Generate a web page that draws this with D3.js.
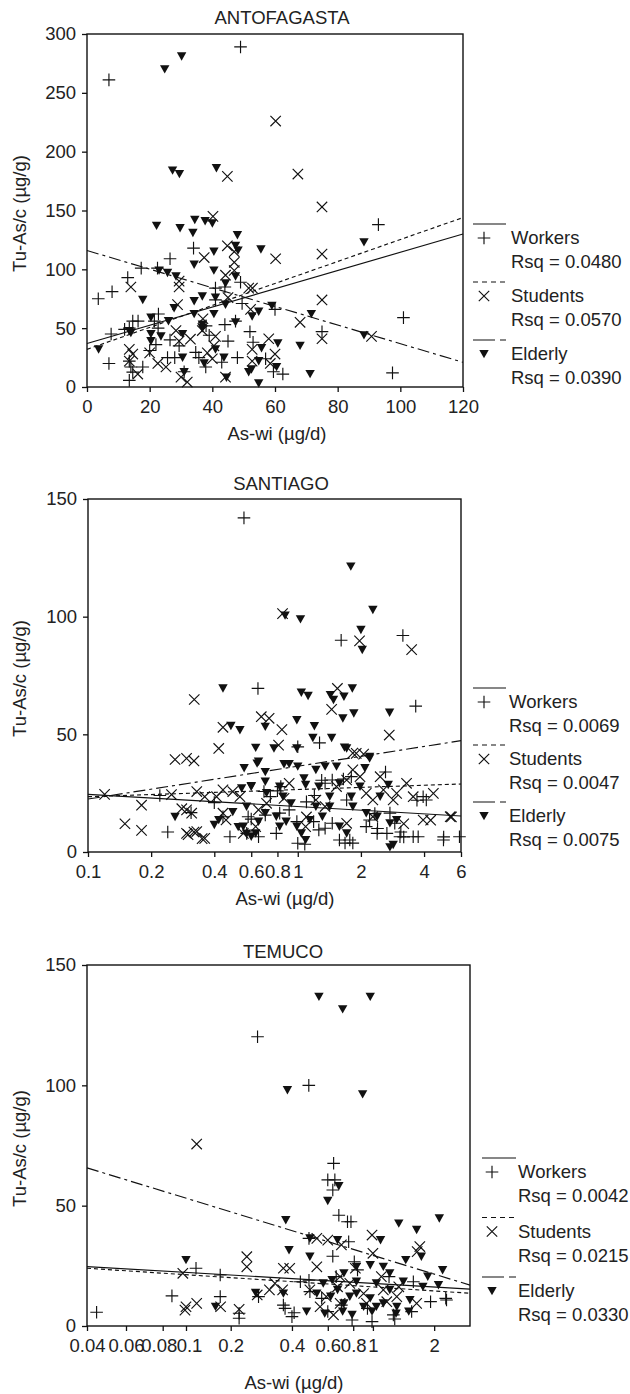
<!DOCTYPE html>
<html>
<head>
<meta charset="utf-8">
<script src="https://cdn.jsdelivr.net/npm/d3@7/dist/d3.min.js"></script>
<style>
  html, body { margin: 0; padding: 0; background: #fff; }
  svg text { font-family: "Liberation Sans", Arial, sans-serif; fill: #222; }
</style>
</head>
<body>
<script>
// ---------------- DATA ----------------
const groupNames = ["Workers", "Students", "Elderly"];

// ANTOFAGASTA (linear x)
const antoTitle = "ANTOFAGASTA";
const antoXTicks = [0, 20, 40, 60, 80, 100, 120];
const antoYTicks = [0, 50, 100, 150, 200, 250, 300];
const antoRsq = ["0.0480", "0.0570", "0.0390"];
const antoWorkers = [[49,289],[7,261],[93,138],[101,59],[97.5,12],[75,47],[34,118],[26.5,109],[17.3,101],[22.5,101],[13,93],[3.6,75],[8,81],[7.7,45],[7,20],[52,47],[60,66],[62.5,11],[48,25],[49,89],[41,84],[22.8,62],[16.3,56],[14.6,56],[13.5,50],[13.5,5.6],[14,17],[13.5,22],[14.6,12.6],[17.8,17],[21.5,56],[22.7,50],[22,36],[25.7,25],[29.4,35],[34.7,29.4],[35.7,25],[37.9,17],[41,74],[44,53],[47.4,56],[45,39],[49.5,71],[44,85],[12,49],[20,31],[28,25],[39,44],[53,38],[57,24],[59.5,13],[43,21],[31,13],[38,52],[26.5,40]];
const antoStudents = [[60.2,226],[67.3,181],[44.8,179],[75,153],[75,113],[75,74],[75,41],[90.8,43],[60.2,109],[40.2,145],[68,55],[52.8,84],[14,85],[29.4,85],[29.4,90],[37.4,110],[44.8,120],[47,115],[47,106],[47,99],[44.2,95],[51.6,84],[52.2,66],[13.5,32],[14.6,28],[13.5,22],[16.2,11],[20,29],[22.6,20],[25.2,17],[28.4,48],[29.4,39],[30,8.4],[32,4.2],[33,40.6],[36.8,48],[38.4,29],[40,24],[40.5,35],[44.2,8.4],[52.7,32],[52.7,22],[58,41],[60,28],[58.5,20],[28.9,70],[45,76],[37,58],[41,43]];
const antoElderly = [[24.8,270],[30.2,281],[27.3,184],[29.5,181],[41.3,186],[22.2,137],[29.7,135],[34.4,142],[37.7,141],[40,139],[33.8,131],[48,129],[48.2,116],[55.5,117],[88.4,123],[88.4,44],[71.6,62],[68,35],[71.2,11],[60.5,17],[54.8,3],[60.9,37],[59,69],[55.7,33],[52.5,15],[40.5,115],[34.2,104],[47.4,120],[23,99],[25.7,97],[28.4,94],[40.5,99],[47.4,94],[44.2,88],[17.8,74],[34.2,73],[36.8,77],[41,76],[44.2,70],[27.8,67],[34.2,62],[36.8,53],[40.5,62],[47.4,55],[52.7,60],[54.8,64],[20.4,59],[26,56],[3.7,32],[14,46],[20.4,39],[20.4,45],[23.6,43],[30.5,45],[30.5,25],[31,12.6],[37.4,20],[41,32],[43.7,25],[51.6,12.6],[54.8,22],[36.8,50],[13.5,47.6],[44.5,8]];
// regression lines: [x0, y0, x1, y1]
const antoFits = [[0,37,120,130],[0,32,120,144],[0,116,120,21]];

// SANTIAGO (log x)
const santTitle = "SANTIAGO";
const santXTicks = [0.1, 0.2, 0.4, 0.6, 0.8, 1, 2, 4, 6];
const santYTicks = [0, 50, 100, 150];
const santRsq = ["0.0069", "0.0047", "0.0075"];
const santWorkers = [[0.554,142],[1.61,90],[3.17,92],[3.65,62],[0.646,69.5],[1.27,46.4],[1.0,44.7],[2.62,34],[3.7,22],[4.96,6.4],[3.2,6.4],[3.1,8.5],[1.68,3.8],[1.83,3.8],[1.08,3.3],[0.24,8.5],[0.22,24],[0.31,16.7],[0.4,21],[1.65,31],[2.33,16.3],[2.4,10],[0.8,26],[1.3,30.5],[1.1,21.3],[0.6,14],[1.2,24],
  [0.69,25.7],[0.74,23.5],[0.83,27.8],[1.35,29.2],[1.46,30.6],[1.71,22.1],[1.8,32],[0.7,15.7],[0.82,16.5],[0.91,17.9],[0.99,12.9],[1.19,12.9],[1.26,9.4],[1.35,10.1],[1.46,12.2],[1.58,5.1],[1.77,5.1],[2.12,10.8],[2.2,13.6],[2.39,7.9],[2.66,7.9],[3.07,6.5],[3.55,6.5],[3.75,6.5],[3.96,23.5],[4.1,22.1],[4.95,5.1],[5.9,6.5],[1.0,3.7],[0.475,6.5],[0.571,7.9],[0.65,6.5],[0.79,7.9],[0.44,15],[0.58,15],[2.75,16.5],[2.9,12.2]];
const santStudents = [[0.846,101.3],[1.97,89.7],[3.49,86],[0.321,64.8],[1.545,69.5],[1.45,60.6],[0.67,57.5],[0.73,56.8],[0.44,53],[0.84,52],[0.42,44],[0.81,45.4],[2.73,49.7],[0.26,39.3],[0.32,38.7],[1.9,41.9],[2.06,41.6],[0.12,24.5],[0.15,12],[0.18,9.2],[0.18,19.9],[0.25,24.4],[0.28,18.4],[0.3,7.4],[0.32,8.5],[0.35,5.7],[5.4,14.9],[4.3,13.5],[3.2,12],[1.1,14.9],
  [0.295,39.8],[0.33,25.7],[0.36,23.5],[0.41,23.5],[0.44,26.4],[0.49,25.7],[0.53,23.5],[0.295,17.9],[0.312,16.5],[0.44,16.5],[0.455,13.6],[0.295,7.9],[0.33,8.7],[0.36,5.8],[0.55,7.9],[0.63,10.8],[0.65,17.9],[0.71,20.7],[0.86,22.8],[0.91,29.2],[1.09,10.8],[1.22,22.1],[1.35,19.3],[1.53,27.8],[1.71,30.6],[1.83,42],[1.83,34.9],[1.98,32],[2.12,24.9],[2.28,22.1],[2.47,32],[2.56,26.4],[2.85,22.1],[2.96,24.9],[3.3,29.2],[3.55,23.5],[3.96,13.6],[4.43,24.9],[5.33,15],[1.71,12.2],[2.28,15]];
const santElderly = [[1.79,121.3],[2.28,102.9],[0.87,100.5],[1.03,98.9],[2.0,94.4],[2.03,85.9],[0.44,69.5],[1.04,67.7],[1.12,66.3],[1.43,66.7],[1.48,64.6],[1.66,66],[1.82,69.5],[1.64,56.8],[1.85,58.9],[2.74,59.2],[0.99,56],[0.48,53.6],[0.53,51.8],[0.7,53.2],[1.2,53.5],[1.18,48.5],[1.45,48.5],[0.63,44.3],[0.77,44],[0.99,44],[1.67,44.4],[2.2,40.4],[0.64,37.6],[0.7,34],[0.86,37.3],[0.6,28],[0.54,27],[0.49,17],[0.26,14.9],[0.52,10.6],[0.57,7.8],[2.75,2],
  [0.555,35.6],[0.6,27.8],[0.65,38.4],[0.7,29.9],[0.71,25],[0.82,27.8],[0.91,37.4],[1.0,36.3],[1.07,31.3],[1.09,28.5],[1.22,34.9],[1.26,27.8],[1.35,36.3],[1.42,23.5],[1.53,36.3],[1.58,29.2],[1.71,44],[1.8,23.5],[1.98,27.8],[2.09,35.6],[2.2,39.8],[2.47,23.5],[2.7,28.5],[0.55,10.8],[0.6,6.5],[0.63,7.9],[0.7,16.5],[0.79,15],[0.82,10.8],[0.88,12.9],[0.99,10.8],[1.04,7.9],[1.09,5.1],[1.14,13.6],[1.22,19.3],[1.31,15],[1.42,19.3],[1.58,10.8],[1.71,7.9],[1.83,19.3],[2.12,16.5],[2.39,15],[2.75,12.2],[2.85,3],[2.96,13.6],[0.4,11.5],[0.42,13.6],[0.57,19.3],[0.65,12.9],[0.85,23.5],[0.93,20.7]];
const santFits = [[0.1,24.5,6,15.3],[0.1,23.5,6,28.9],[0.1,22.5,6,47.3]];

// TEMUCO (log x)
const temuTitle = "TEMUCO";
const temuXTicks = [0.04, 0.06, 0.08, 0.1, 0.2, 0.4, 0.6, 0.8, 1, 2];
const temuYTicks = [0, 50, 100, 150];
const temuRsq = ["0.0042", "0.0215", "0.0330"];
const temuWorkers = [[0.271,120.2],[0.484,100],[0.641,67.6],[0.6,60.7],[0.65,60.7],[0.635,56.5],[0.68,46],[0.75,43.3],[0.78,43.3],[0.485,36.4],[0.76,35],[0.635,29],[0.81,26.7],[0.0442,5.7],[0.0874,12.5],[0.1168,24],[0.17,21.2],[0.17,12.2],[0.22,5.3],[0.22,3.2],[0.274,12.2],[0.363,8.7],[0.37,7.3],[0.41,5.5],[0.49,14.3],[0.485,19],[0.79,2.5],[0.99,1.8],[0.4,3.9],[2.3,10.8],[1.26,4.6],[1.28,2.9],[1.58,18.4],[1.92,10.1],[2.28,11.5],[1.2,20.5],[0.84,23.3],[0.66,20.5],[0.56,11.5],[0.7,8.7],[0.94,7.3],[1.55,6],[0.44,18.4],[0.6,6]];
const temuStudents = [[0.118,75.6],[0.53,36.4],[0.6,35.7],[0.7,33.7],[0.99,37.8],[1.0,30.2],[1.7,33],[1.65,30.9],[0.24,28.8],[0.24,24.6],[0.097,21.9],[0.099,6.6],[0.1,8],[0.118,9.4],[0.171,8],[0.22,6.9],[0.27,12.9],[0.31,15],[0.36,15],[0.33,17.7],[0.363,24],[0.39,24],[0.49,15],[0.59,12.2],[0.67,16.3],[0.77,17.7],[0.9,13.5],[1.125,15],[1.31,12.2],[1.64,9.4],[0.55,8],[0.69,9.4],[0.93,9.4],[1.17,10.1],[0.53,24.6],[0.69,20.5],[1.1,20.5],[1.34,16.3],[0.82,24],[0.64,4.6]];
const temuElderly = [[0.543,136.8],[0.97,136.8],[0.71,131.6],[0.38,98],[0.89,96.3],[0.68,58.1],[0.6,52],[0.373,44],[2.12,44.7],[1.34,42.6],[1.64,39.9],[0.387,31.5],[0.49,36.4],[0.67,35.7],[1.09,35.7],[0.49,28.8],[1.45,27.4],[1.73,28.8],[2.2,23.2],[1.86,20.5],[2.1,17],[0.1,27.4],[0.158,8],[0.265,13.8],[0.363,13.5],
  [0.57,17.7],[0.63,19.1],[0.72,21.9],[0.83,24.6],[0.97,25.3],[1.125,24.6],[1.21,21.9],[1.41,18.4],[1.76,16.3],[0.53,13.5],[0.62,12.2],[0.72,9.4],[0.83,13.5],[0.97,11.5],[1.125,9.4],[1.31,8],[0.83,18.4],[1.04,17.7],[1.21,15],[1.52,10.8],[0.67,15],[0.9,8],[0.77,12.2],[1.04,8],[0.472,6],[0.58,5.2],[0.71,6],[0.79,4.6],[0.99,6],[1.3,5.2],[1.5,6]];
const temuFits = [[0.04,24.7,3,15.3],[0.04,24,3,13.6],[0.04,65.7,3,17]];

// ---------------- DRAWING ----------------
const svg = d3.select("body").append("svg").attr("width", 630).attr("height", 1394);
const FS = 18.5;
const fitDash = [null, "4,3", "12,4,3,4"];
const legendDash = [null, "5,4", "22,5,7"];

const markerPath = [
  "M-6.3,0H6.3M0,-6.3V6.3",
  "M-5.2,-5.2L5.2,5.2M-5.2,5.2L5.2,-5.2",
  "M-4.7,-4.1L4.7,-4.1L0,4.3Z"
];

function drawMarker(g, type, x, y) {
  const p = g.append("path").attr("d", markerPath[type]).attr("transform", `translate(${x},${y})`);
  if (type === 2) p.attr("fill", "#111").attr("stroke", "none");
  else p.attr("fill", "none").attr("stroke", "#111").attr("stroke-width", 1.15);
}

function panel(cfg) {
  const g = svg.append("g");
  const x = cfg.x, y = cfg.y;
  const [x0, x1] = [x.range()[0], x.range()[x.range().length - 1]];
  const [yb, yt] = y.range();

  const series = [cfg.workers, cfg.students, cfg.elderly];
  series.forEach((pts, si) => {
    const sg = g.append("g");
    pts.forEach(d => drawMarker(sg, si, x(d[0]), y(d[1])));
  });

  const line = d3.line().x(d => x(d[0])).y(d => y(d[1]));
  cfg.fits.forEach((f, i) => {
    g.append("path").attr("d", line([[f[0], f[1]], [f[2], f[3]]]))
      .attr("fill", "none").attr("stroke", "#111").attr("stroke-width", 1.15)
      .attr("stroke-dasharray", fitDash[i]);
  });

  const xa = g.append("g").attr("transform", `translate(0,${yb})`)
    .call(d3.axisBottom(x).tickValues(cfg.xTicks).tickFormat(d => String(d)).tickSize(5).tickPadding(8));
  const ya = g.append("g").attr("transform", `translate(${x0},0)`)
    .call(d3.axisLeft(y).tickValues(cfg.yTicks).tickFormat(d => String(d)).tickSize(5).tickPadding(6));
  [xa, ya].forEach(a => {
    a.select(".domain").remove();
    a.selectAll(".tick line").attr("stroke", "#111").attr("stroke-width", 1.3);
    a.selectAll(".tick text").attr("font-size", FS).attr("font-family", '"Liberation Sans", Arial, sans-serif').attr("fill", "#222");
  });
  if (cfg.labelNudge) {
    xa.selectAll(".tick text").attr("dx", d => cfg.labelNudge[d] || 0);
  }

  g.append("rect").attr("x", x0).attr("y", yt).attr("width", x1 - x0).attr("height", yb - yt)
    .attr("fill", "none").attr("stroke", "#111").attr("stroke-width", 1.4);

  g.append("text").attr("x", cfg.titleX).attr("y", cfg.titleY).attr("text-anchor", "middle")
    .attr("font-size", FS).text(cfg.title);
  g.append("text").attr("x", cfg.xLabelX).attr("y", cfg.xLabelY).attr("text-anchor", "middle")
    .attr("font-size", FS).text("As-wi (µg/d)");
  g.append("text").attr("transform", `translate(26,${(yb + yt) / 2 + 3}) rotate(-90)`)
    .attr("text-anchor", "middle").attr("font-size", FS).text("Tu-As/c (µg/g)");

  const L = cfg.legend;
  groupNames.forEach((name, i) => {
    const by = L.y + i * L.step;
    g.append("line").attr("x1", L.lx0).attr("x2", L.lx1).attr("y1", by).attr("y2", by)
      .attr("stroke", "#111").attr("stroke-width", 1.2).attr("stroke-dasharray", legendDash[i]);
    drawMarker(g, i, L.mx, by + 14);
    g.append("text").attr("x", L.tx).attr("y", by + 14).attr("dy", "0.35em").attr("font-size", FS).text(name);
    g.append("text").attr("x", L.tx).attr("y", by + 38).attr("dy", "0.35em").attr("font-size", FS).text("Rsq = " + cfg.rsq[i]);
  });
}

panel({
  title: antoTitle, titleX: 282, titleY: 24,
  x: d3.scaleLinear().domain([0, 120]).range([87, 463]),
  y: d3.scaleLinear().domain([0, 300]).range([387, 34]),
  xTicks: antoXTicks, yTicks: antoYTicks,
  workers: antoWorkers, students: antoStudents, elderly: antoElderly,
  fits: antoFits, rsq: antoRsq,
  xLabelX: 277, xLabelY: 440,
  legend: { y: 224, step: 58, lx0: 473, lx1: 506, mx: 484, tx: 511 }
});

panel({
  title: santTitle, titleX: 281, titleY: 490,
  x: d3.scaleLog().domain([0.1, 6]).range([88, 461]),
  y: d3.scaleLinear().domain([0, 150]).range([852, 499]),
  xTicks: santXTicks, yTicks: santYTicks,
  workers: santWorkers, students: santStudents, elderly: santElderly,
  fits: santFits, rsq: santRsq,
  xLabelX: 285, xLabelY: 905,
  legend: { y: 688, step: 57, lx0: 473, lx1: 506, mx: 484, tx: 509 }
});

panel({
  title: temuTitle, titleX: 283, titleY: 958,
  x: d3.scaleLog().domain([0.04, 0.06, 0.08, 0.1, 0.2, 3]).range([87, 126, 162.7, 186, 230.7, 470]),
  y: d3.scaleLinear().domain([0, 150]).range([1326, 965]),
  xTicks: temuXTicks, yTicks: temuYTicks,
  workers: temuWorkers, students: temuStudents, elderly: temuElderly,
  fits: temuFits, rsq: temuRsq,
  labelNudge: { 0.08: -4, 0.1: 3 },
  xLabelX: 294, xLabelY: 1389,
  legend: { y: 1158, step: 59.5, lx0: 482, lx1: 516, mx: 492, tx: 518 }
});
</script>
</body>
</html>
